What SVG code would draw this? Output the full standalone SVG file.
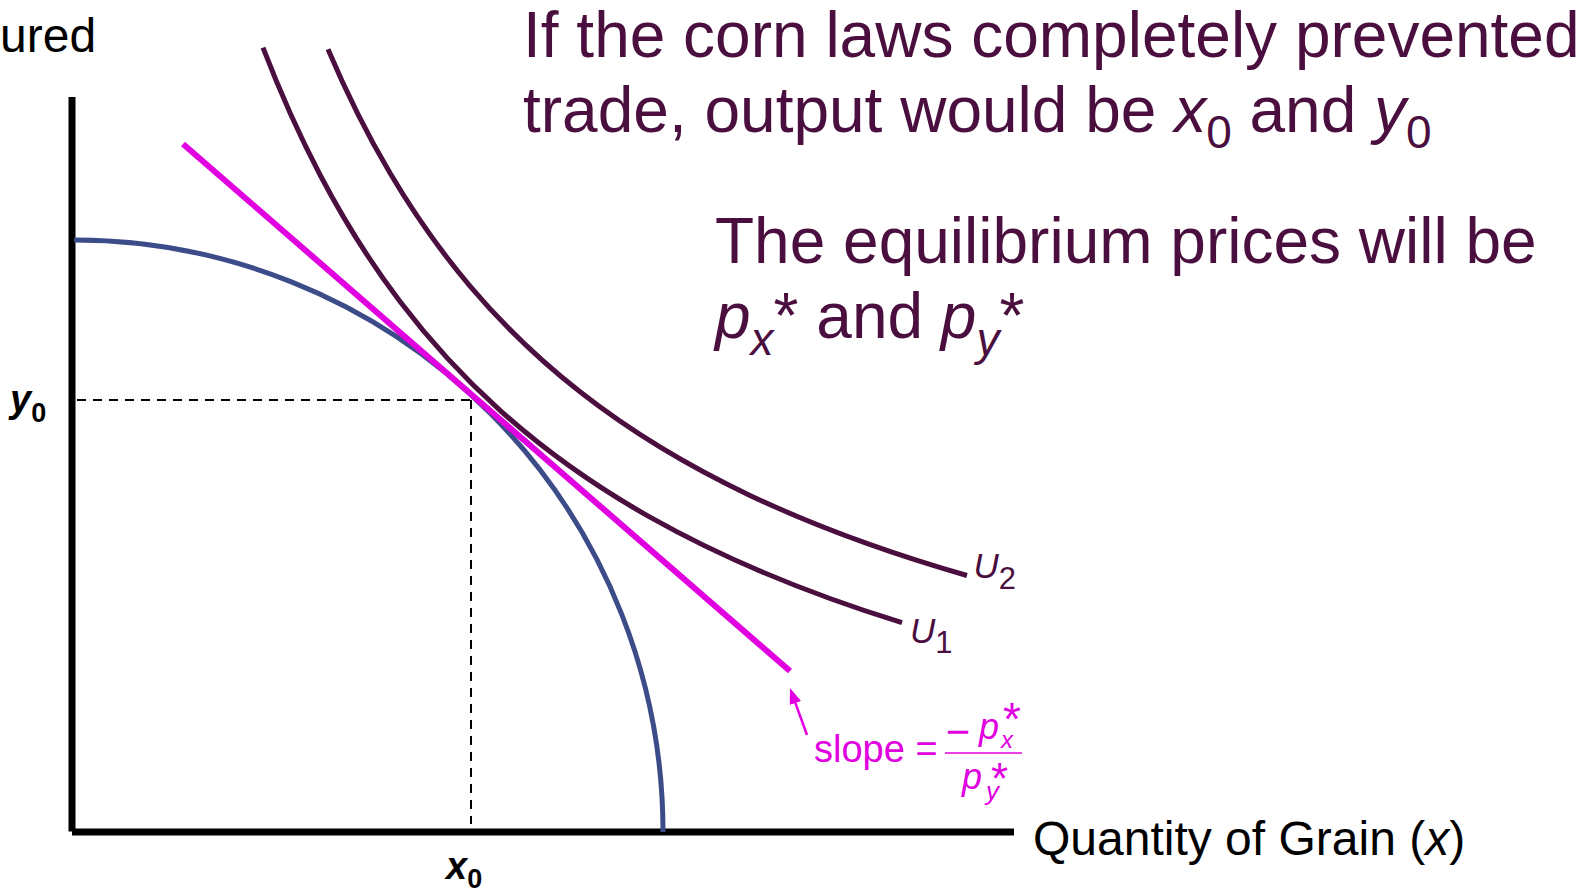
<svg xmlns="http://www.w3.org/2000/svg" width="1588" height="892" viewBox="0 0 1588 892">
<style>
text{font-family:"Liberation Sans",Arial,Helvetica,sans-serif}
.t{font-size:64px;fill:#4A0F3F}
.ax{stroke:#000;stroke-width:7;fill:none}
.dash{stroke:#000;stroke-width:2;stroke-dasharray:9 7;fill:none}
.u{stroke:#4A0F3F;stroke-width:5;fill:none}
.mg{fill:#E000E0}
.lbl{font-size:38px;font-weight:bold;fill:#000}
.it{font-style:italic}
</style>
<defs>
<marker id="ah" viewBox="0 0 16 12" markerUnits="userSpaceOnUse" markerWidth="16" markerHeight="12" refX="10" refY="6" orient="auto">
<path d="M0,0 L16,6 L0,12 z" fill="#E000E0"/>
</marker>
</defs>
<rect width="1588" height="892" fill="#fff"/>
<g id="axes">
<line class="ax" x1="72" y1="97" x2="72" y2="831.5"/>
<line class="ax" x1="72" y1="832" x2="1014" y2="832"/>
</g>
<g id="guides">
<line class="dash" x1="77" y1="400" x2="471" y2="400"/>
<line class="dash" x1="471" y1="400" x2="471" y2="824"/>
</g>
<g id="ppf">
<path d="M74,240 A589,592 0 0 1 663,832" fill="none" stroke="#3B4C88" stroke-width="5"/>
</g>
<g id="u1">
<path class="u" d="M263,47.66 C282,97.17 301,138.50 320,174.73 C346.67,225.58 373.33,266.40 400,301.53 C433.33,345.44 466.67,380.37 500,410.32 C550,455.24 600,488.92 650,517.16 C734,564.59 818,596.62 902,622.72"/>
<text x="910" y="643" font-size="35" fill="#4A0F3F"><tspan class="it">U</tspan><tspan font-size="31" dy="10">1</tspan></text>
</g>
<g id="u2">
<path class="u" d="M328,49.25 C348.67,97.98 369.33,138.11 390,173.06 C416.67,218.16 443.33,254.59 470,286.04 C506.67,329.28 543.33,363.05 580,391.78 C636.67,436.18 693.33,468.53 750,495.39 C822.33,529.68 894.67,554.71 967,575.52"/>
<text x="973.5" y="578" font-size="35" fill="#4A0F3F"><tspan class="it">U</tspan><tspan font-size="31" dy="11">2</tspan></text>
</g>
<g id="priceline">
<line x1="183" y1="144" x2="790" y2="671" stroke="#E000E0" stroke-width="6"/>
</g>
<g id="connectors">
<line x1="807" y1="735" x2="792" y2="693.6" stroke="#E000E0" stroke-width="2.5" marker-end="url(#ah)"/>
</g>
<g id="slope-label" class="mg">
<text x="814" y="762" font-size="38">slope =</text>
<text x="958" y="746" font-size="42" text-anchor="middle">−</text>
<text x="979" y="739" font-size="36" class="it">p</text>
<text x="1001" y="748" font-size="24" class="it">x</text>
<text x="1003" y="735" font-size="46">*</text>
<line x1="945" y1="753" x2="1022" y2="753" stroke="#E000E0" stroke-width="1.5"/>
<text x="962" y="789" font-size="36" class="it">p</text>
<text x="986" y="800" font-size="26" class="it">y</text>
<text x="991" y="794" font-size="44">*</text>
</g>
<g id="axis-labels">
<text x="0" y="52" font-size="48" fill="#000">ured</text>
<text x="1033" y="855" font-size="48" fill="#000">Quantity of Grain (<tspan class="it">x</tspan>)</text>
<text x="10" y="412" class="lbl"><tspan class="it">y</tspan><tspan font-size="27" dy="10">0</tspan></text>
<text x="446" y="879" class="lbl"><tspan class="it">x</tspan><tspan font-size="27" dy="9">0</tspan></text>
</g>
<g id="title">
<text x="523" y="57" class="t">If the corn laws completely prevented</text>
<text x="523" y="132" class="t">trade, output would be <tspan class="it">x</tspan><tspan font-size="46" dy="16">0</tspan><tspan dy="-16"> and </tspan><tspan class="it">y</tspan><tspan font-size="46" dy="16">0</tspan></text>
</g>
<g id="prices">
<text x="715" y="263" class="t">The equilibrium prices will be</text>
<text x="715" y="338" class="t"><tspan class="it">p</tspan><tspan class="it" font-size="46" dy="17">x</tspan><tspan dy="-17">*</tspan> and <tspan class="it">p</tspan><tspan class="it" font-size="46" dy="17">y</tspan><tspan dy="-17">*</tspan></text>
</g>
</svg>
